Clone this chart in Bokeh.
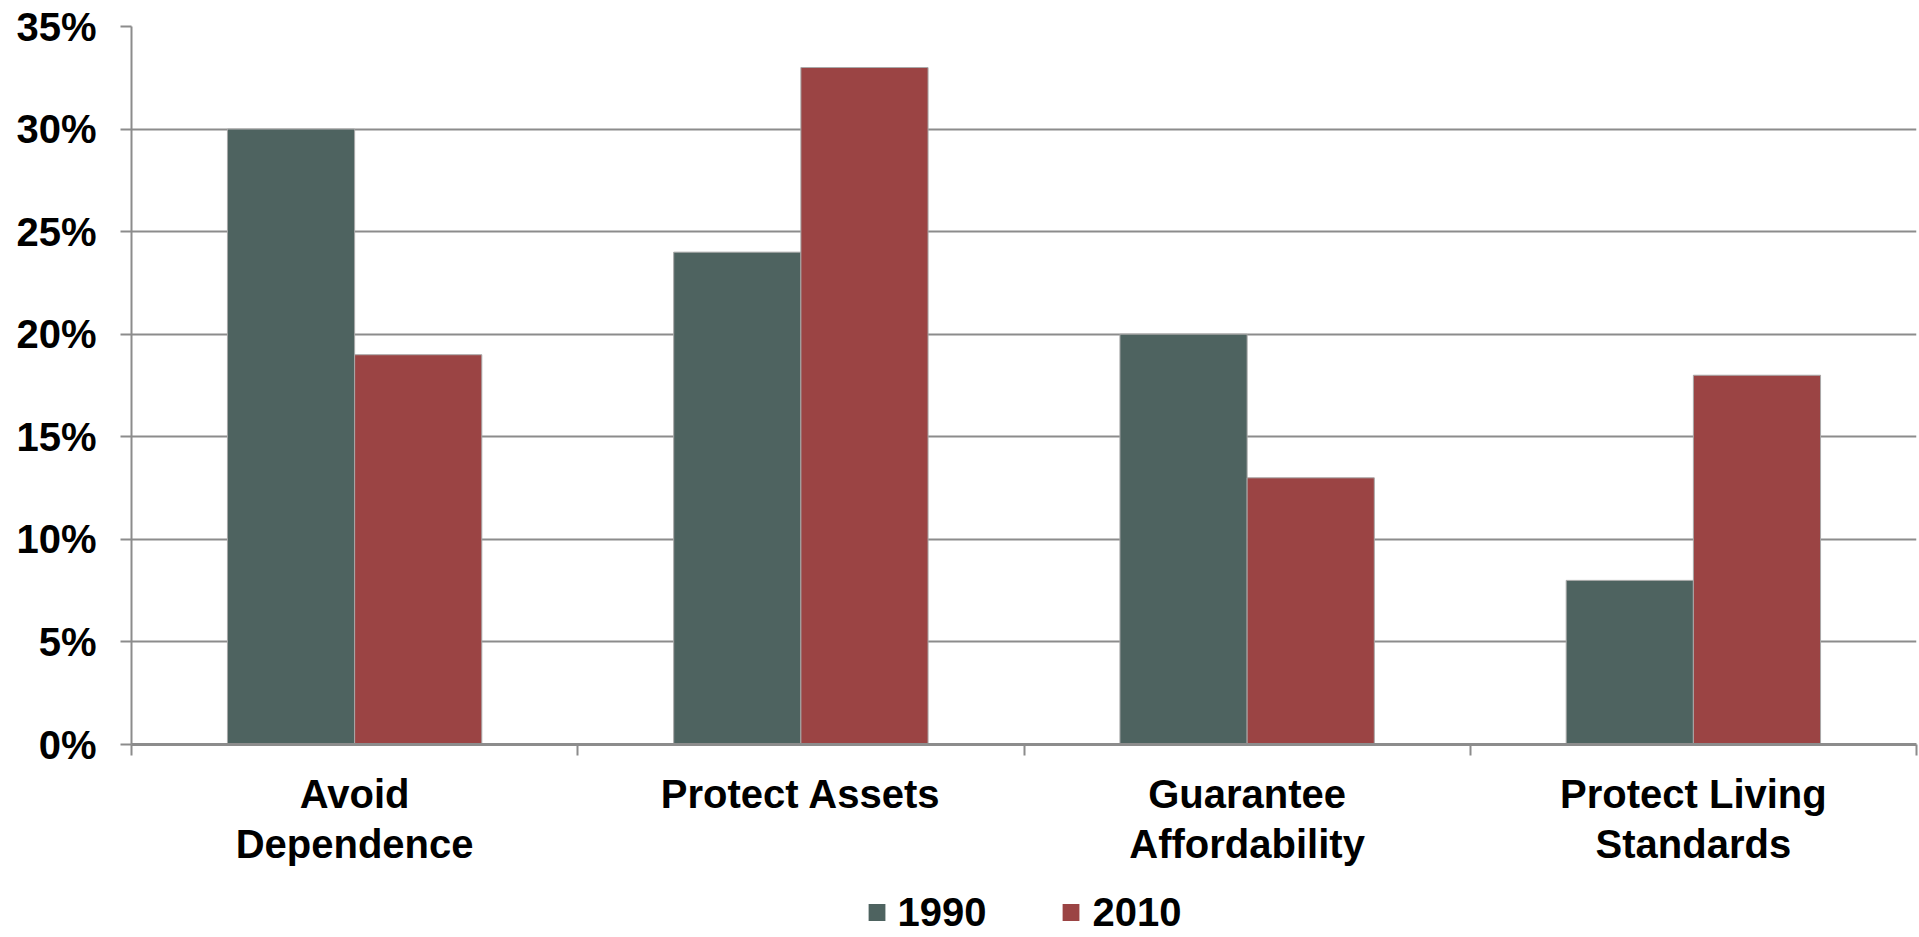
from bokeh.plotting import figure
from bokeh.layouts import column
from bokeh.models import (ColumnDataSource, FixedTicker, Legend, LegendItem,
                          PrintfTickFormatter, Range1d)
from bokeh.embed import file_html
from bokeh.resources import INLINE

categories = ["Avoid\nDependence", "Protect Assets", "Guarantee\nAffordability",
              "Protect Living\nStandards"]
values_1990 = [30, 24, 20, 8]
values_2010 = [19, 33, 13, 18]
series_names = ["1990", "2010"]
y_ticks = [0, 5, 10, 15, 20, 25, 30, 35]

GREEN = "#4E6360"
RED = "#9B4444"
GRID = "#8C8C8C"
FONT = "Liberation Sans"
W = 1919

n = len(categories)
centers = [i + 0.5 for i in range(n)]
bar_w = 0.285

src_a = ColumnDataSource(dict(x=[c - bar_w / 2 for c in centers], top=values_1990))
src_b = ColumnDataSource(dict(x=[c + bar_w / 2 for c in centers], top=values_2010))

p = figure(width=W, height=870, output_backend="svg", toolbar_location=None,
           x_range=Range1d(0, n), y_range=Range1d(0, 35),
           min_border_left=131, min_border_right=3, min_border_top=26,
           min_border_bottom=126)
p.outline_line_color = None
p.background_fill_color = "white"
p.border_fill_color = "white"

bar_style = dict(bottom=0, width=bar_w, line_color="#A8A8A8", line_width=1)
p.vbar(x="x", top="top", source=src_a, fill_color=GREEN, **bar_style)
p.vbar(x="x", top="top", source=src_b, fill_color=RED, **bar_style)

# y axis
yax = p.yaxis[0]
yax.ticker = FixedTicker(ticks=y_ticks, minor_ticks=[])
yax.formatter = PrintfTickFormatter(format="%d%%")
yax.axis_line_color = GRID
yax.axis_line_width = 2
yax.major_tick_line_color = GRID
yax.major_tick_line_width = 2
yax.major_tick_out = 11
yax.major_tick_in = 0
yax.minor_tick_line_color = None
yax.major_label_text_font = FONT
yax.major_label_text_font_style = "bold"
yax.major_label_text_font_size = "40px"
yax.major_label_text_color = "black"
yax.major_label_standoff = 24

# x axis: labels at category centers, tick marks at the boundaries
xax = p.xaxis[0]
xax.ticker = FixedTicker(ticks=centers, minor_ticks=list(range(n + 1)))
xax.major_label_overrides = {c: lab for c, lab in zip(centers, categories)}
xax.axis_line_color = GRID
xax.axis_line_width = 3
xax.major_tick_line_color = None
xax.major_tick_out = 0
xax.major_tick_in = 0
xax.minor_tick_line_color = GRID
xax.minor_tick_line_width = 2
xax.minor_tick_out = 11
xax.minor_tick_in = 0
xax.major_label_text_font = FONT
xax.major_label_text_font_style = "bold"
xax.major_label_text_font_size = "40px"
xax.major_label_text_line_height = 1.15
xax.major_label_text_color = "black"
xax.major_label_standoff = 16

p.xgrid.grid_line_color = None
p.ygrid.ticker = FixedTicker(ticks=y_ticks)
p.ygrid.grid_line_color = GRID
p.ygrid.grid_line_width = 2

# legend strip under the chart; swatch renderers sit outside the visible range
lg = figure(width=W, height=67, output_backend="svg", toolbar_location=None,
            x_range=Range1d(0, 1), y_range=Range1d(0, 1),
            x_axis_location=None, y_axis_location=None,
            min_border_left=131, min_border_right=3, min_border_top=17,
            min_border_bottom=0)
lg.outline_line_color = None
lg.xgrid.grid_line_color = None
lg.ygrid.grid_line_color = None
swatch_a = lg.vbar(x=[-10], top=[-10], width=1, fill_color=GREEN, line_color=None)
swatch_b = lg.vbar(x=[-10], top=[-10], width=1, fill_color=RED, line_color=None)

legend = Legend(items=[LegendItem(label=series_names[0], renderers=[swatch_a]),
                       LegendItem(label=series_names[1], renderers=[swatch_b])],
                orientation="horizontal", location="center",
                glyph_width=21, glyph_height=21, label_standoff=11, spacing=74,
                label_text_font=FONT, label_text_font_style="bold",
                label_text_font_size="40px", label_text_color="black",
                border_line_color=None, background_fill_alpha=0,
                padding=0, margin=0)
lg.add_layout(legend, "center")

open("out.html", "w").write(file_html(column(p, lg, spacing=0), INLINE))
